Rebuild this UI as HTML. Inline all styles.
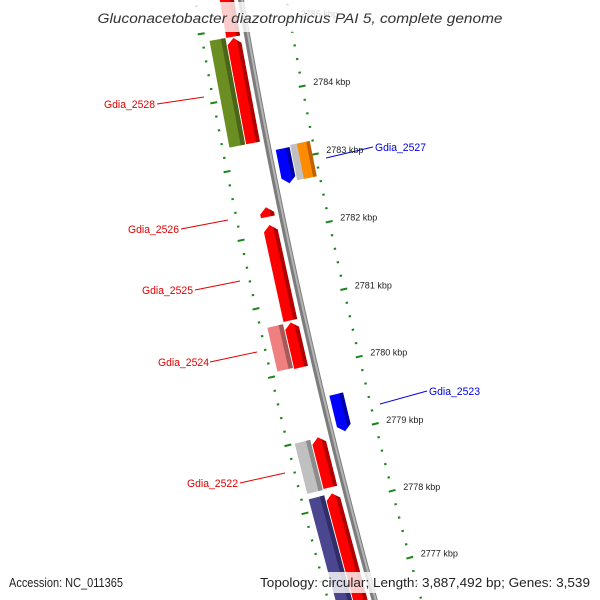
<!DOCTYPE html>
<html><head><meta charset="utf-8"><style>
html,body{margin:0;padding:0;background:#fff;width:600px;height:600px;overflow:hidden;}
svg{display:block;font-family:"Liberation Sans",sans-serif;overflow:hidden;}
</style></head><body>
<svg id="map" width="600" height="600" viewBox="0 0 600 600" xmlns="http://www.w3.org/2000/svg">
<rect width="600" height="600" fill="#fff"/>
<g id="rings"></g>
<g id="backbone"></g>
<g id="features"></g>
<g id="labels"></g>
<g id="ticklabels"></g>
<rect x="93" y="2" width="414" height="30" fill="#fff" fill-opacity="0.8"/>
<text x="300" y="23" text-anchor="middle" font-size="13.5" font-style="italic" fill="#333" textLength="405" lengthAdjust="spacingAndGlyphs">Gluconacetobacter diazotrophicus PAI 5, complete genome</text>
<rect x="5" y="572" width="122" height="21" fill="#fff" fill-opacity="0.8"/>
<text x="9" y="587" font-size="12.5" fill="#222" textLength="114" lengthAdjust="spacingAndGlyphs">Accession: NC_011365</text>
<rect x="256" y="572" width="338" height="21" fill="#fff" fill-opacity="0.8"/>
<text x="260" y="587" font-size="12.5" fill="#222" textLength="330" lengthAdjust="spacingAndGlyphs">Topology: circular; Length: 3,887,492 bp; Genes: 3,539</text>
</svg>
<script>
// ---- data ----
const featStart = [2784.88, 2783.33, 2782.25, 2780.73, 2780.04, 2778.27, 2776.30, 2783.33, 2780.06, 2778.26, 2776.30, 2782.66, 2782.68, 2782.68, 2779.00];
const featEnd   = [2785.90, 2784.86, 2782.39, 2782.13, 2780.70, 2779.01, 2778.18, 2784.88, 2780.70, 2779.00, 2778.18, 2783.17, 2783.20, 2783.20, 2779.55];
const featLane  = ['red', 'red', 'red', 'red', 'red', 'red', 'red', 'outer', 'outer', 'outer', 'outer', 'right', 'grey', 'orange', 'right'];
const featDir   = ['up', 'up', 'up', 'up', 'up', 'up', 'up', 'none', 'none', 'none', 'none', 'down', 'none', 'none', 'down'];
const featColor = ['#ff0000', '#ff0000', '#ff0000', '#ff0000', '#ff0000', '#ff0000', '#ff0000', '#6b8e23', '#f08080', '#c0c0c0', '#4a4690', '#0000ff', '#c0c0c0', '#ff8c00', '#0000ff'];
const featShade = ['#b00000', '#b00000', '#b00000', '#b00000', '#b00000', '#b00000', '#b00000', '#4a6418', '#a85858', '#8c8c8c', '#302d68', '#0000a8', '#8c8c8c', '#c06000', '#0000a8'];
const tickMin = 2776, tickMax = 2786;
const labelNames = ['Gdia_2528', 'Gdia_2526', 'Gdia_2525', 'Gdia_2524', 'Gdia_2522', 'Gdia_2527', 'Gdia_2523'];
const labelColor = ['#e00000', '#e00000', '#e00000', '#e00000', '#e00000', '#0000e0', '#0000e0'];

// ---- geometry ----
const NS = 'http://www.w3.org/2000/svg';
const X0 = 241, A0 = 0.17, K = 1.6e-4;
const laneU = {red: [-21, -7], outer: [-38, -22], right: [7, 21], grey: [22, 36], orange: [29, 42]};
function pt(v, u) {
  const a = A0 + K * v;
  const bx = X0 + (Math.cos(A0) - Math.cos(a)) / K;
  const by = (Math.sin(a) - Math.sin(A0)) / K;
  return [bx + u * Math.cos(a), by - u * Math.sin(a)];
}
function vOf(p) { return 96 + (2784 - p) * 69.6; }
function pts(list) { return list.map(q => pt(q[0], q[1]).map(n => n.toFixed(2)).join(',')).join(' '); }

// rings
const rings = document.getElementById('rings');
const tl = document.getElementById('ticklabels');
for (let i = Math.round(tickMin * 5); i <= Math.round(tickMax * 5); i++) {
  const p = i / 5;
  const major = (i % 5 === 0);
  const v = vOf(p);
  [-45, 45].forEach(uc => {
    const half = major ? 3.5 : 1.2;
    const a = pt(v, uc - half), b = pt(v, uc + half);
    const ln = document.createElementNS(NS, 'line');
    ln.setAttribute('x1', a[0]); ln.setAttribute('y1', a[1]);
    ln.setAttribute('x2', b[0]); ln.setAttribute('y2', b[1]);
    ln.setAttribute('stroke', '#1a851a'); ln.setAttribute('stroke-width', '2');
    
    
    rings.appendChild(ln);
  });
  if (major) {
    const q = pt(v, 45);
    const t = document.createElementNS(NS, 'text');
    t.setAttribute('x', (q[0] + 11).toFixed(1));
    t.setAttribute('y', (q[1] - 1).toFixed(1));
    t.setAttribute('font-size', '9');
    t.setAttribute('fill', '#222');
    t.textContent = p + ' kbp';
    
    
    tl.appendChild(t);
  }
}

// backbone
const bb = document.getElementById('backbone');
const bbPts = [], bbPts2 = [];
for (let v = -30; v <= 640; v += 10) { bbPts.push([v, 0]); bbPts2.push([v, 1]); }
const pl = document.createElementNS(NS, 'polyline');
pl.setAttribute('points', pts(bbPts)); pl.setAttribute('fill', 'none');
pl.setAttribute('stroke', '#7c7c7c'); pl.setAttribute('stroke-width', '6');
 
bb.appendChild(pl);
const pl2 = document.createElementNS(NS, 'polyline');
pl2.setAttribute('points', pts(bbPts2)); pl2.setAttribute('fill', 'none');
pl2.setAttribute('stroke', '#b4b4b4'); pl2.setAttribute('stroke-width', '2');
 
bb.appendChild(pl2);

// features
const fg = document.getElementById('features');
for (let i = 0; i < featStart.length; i++) {
  const vt = vOf(Math.max(featStart[i], featEnd[i]));
  const vb = vOf(Math.min(featStart[i], featEnd[i]));
  const [uL, uR] = laneU[featLane[i]];
  const uM = (uL + uR) / 2;
  const h = Math.min(6, vb - vt);
  const sw = (uR - uL) * 0.28;
  let main, strip;
  if (featDir[i] === 'up') {
    const f = (uR - sw - uM) / (uR - uM);
    main = [[vt, uM], [vt + h, uR], [vb, uR], [vb, uL], [vt + h, uL]];
    strip = [[vt + h * f, uR - sw], [vt + h, uR], [vb, uR], [vb, uR - sw]];
  } else if (featDir[i] === 'down') {
    const f = (uR - sw - uM) / (uR - uM);
    main = [[vt, uL], [vt, uR], [vb - h, uR], [vb, uM], [vb - h, uL]];
    strip = [[vt, uR - sw], [vt, uR], [vb - h, uR], [vb - h * f, uR - sw]];
  } else {
    main = [[vt, uL], [vt, uR], [vb, uR], [vb, uL]];
    strip = [[vt, uR - sw], [vt, uR], [vb, uR], [vb, uR - sw]];
  }
  const g = document.createElementNS(NS, 'g');
  
  
  const p1 = document.createElementNS(NS, 'polygon');
  p1.setAttribute('points', pts(main)); p1.setAttribute('fill', featColor[i]);
   
  g.appendChild(p1);
  const p2 = document.createElementNS(NS, 'polygon');
  p2.setAttribute('points', pts(strip)); p2.setAttribute('fill', featShade[i]);
   
  g.appendChild(p2);
  fg.appendChild(g);
}

// labels (annotation positions)
const labelBox = [[104, 157, 104, 204, 97], [128, 181, 229, 228, 220], [142, 195, 290, 240, 281], [158, 210, 362, 257, 352], [187, 240, 483, 285, 473], [375, 373, 147, 326, 158], [429, 427, 391, 380, 404]];
const lg = document.getElementById('labels');
for (let i = 0; i < labelNames.length; i++) {
  const [tx, lx, ly, ex, ey] = labelBox[i];
  const ln = document.createElementNS(NS, 'line');
  ln.setAttribute('x1', lx); ln.setAttribute('y1', ly);
  ln.setAttribute('x2', ex); ln.setAttribute('y2', ey);
  ln.setAttribute('stroke', labelColor[i]); ln.setAttribute('stroke-width', '1');
  
  
  lg.appendChild(ln);
  const t = document.createElementNS(NS, 'text');
  t.setAttribute('x', tx); t.setAttribute('y', ly + 4);
  t.setAttribute('font-size', '11'); t.setAttribute('fill', labelColor[i]);
  t.setAttribute('textLength', '51'); t.setAttribute('lengthAdjust', 'spacingAndGlyphs');
  t.textContent = labelNames[i];
  
  
  lg.appendChild(t);
}
</script>
</body></html>
